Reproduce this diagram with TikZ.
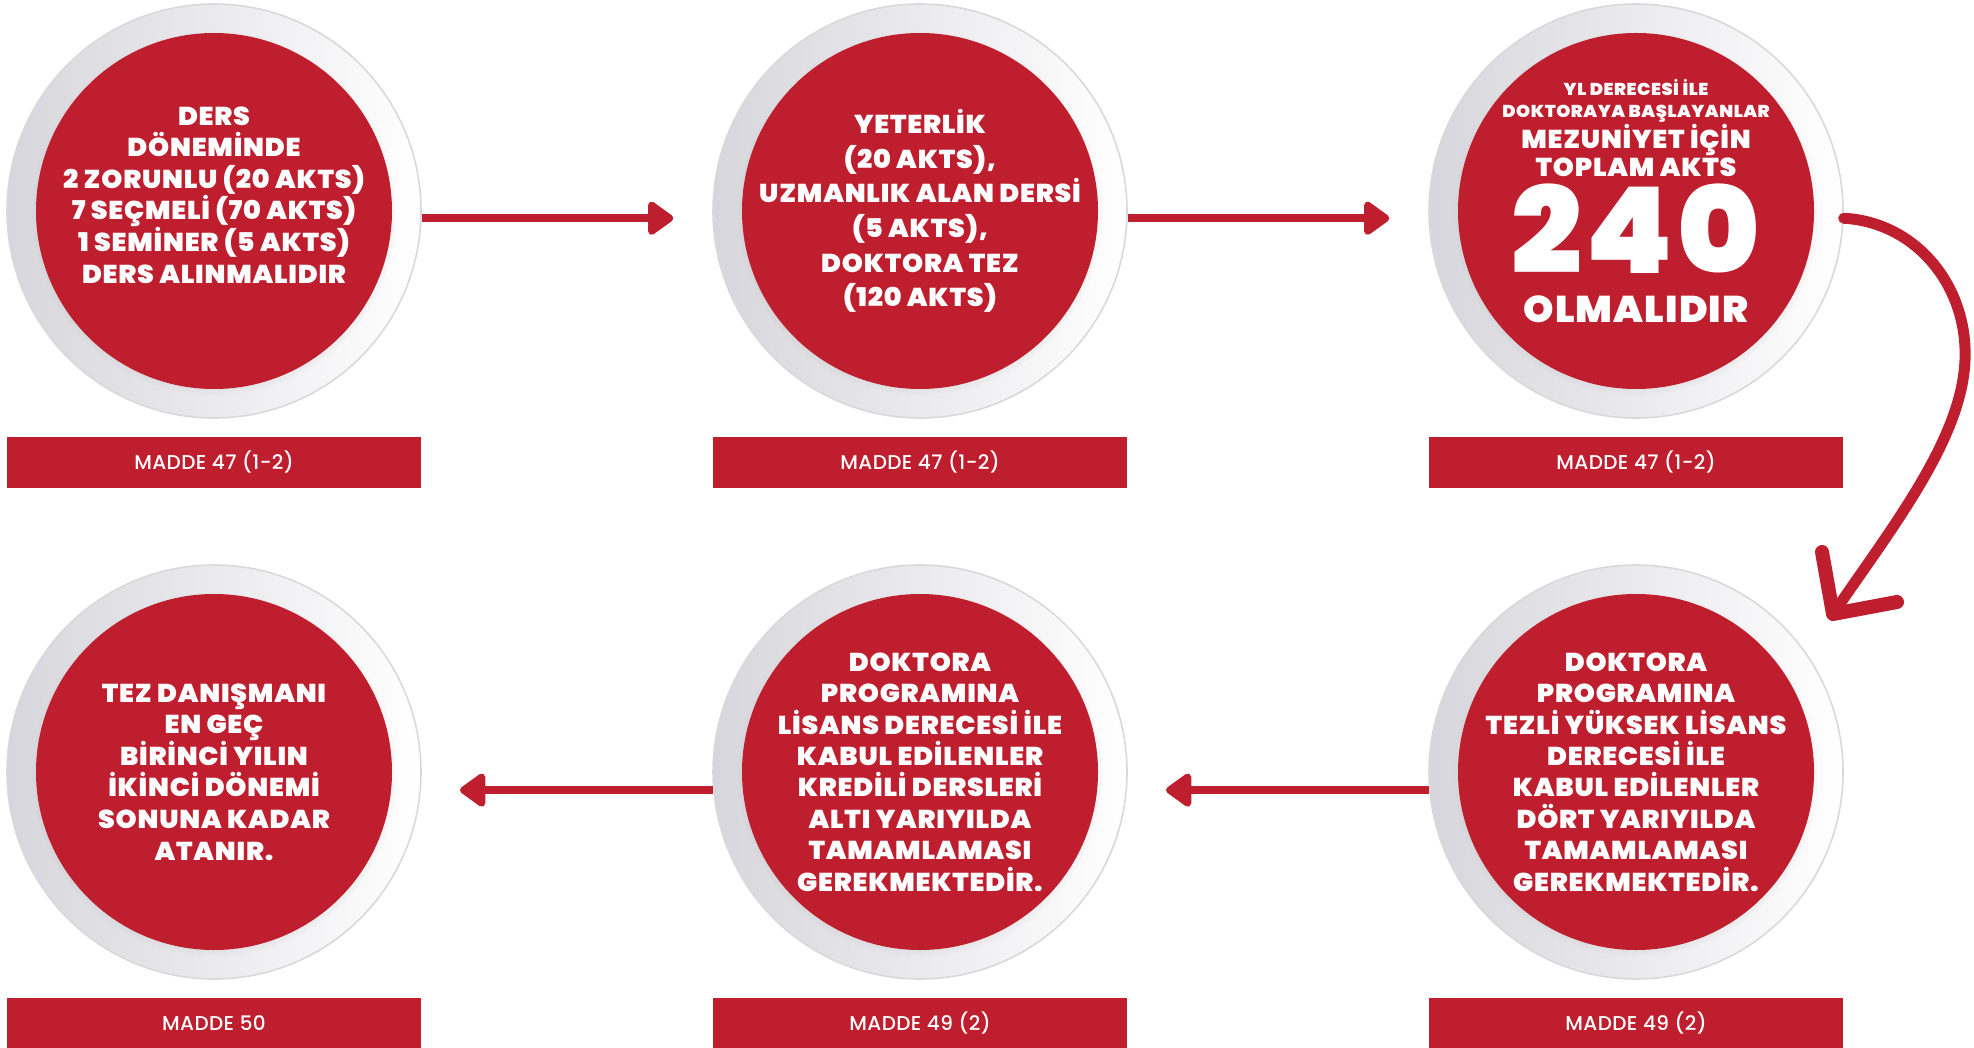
\documentclass[tikz,border=0pt]{standalone}
\usepackage{fontspec}
\setmainfont{Poppins}[BoldFont={Poppins Black},BoldFeatures={FakeStretch=1.04,LetterSpace=3}]
\newfontfamily\labelfont{Poppins Medium}[LetterSpace=2]
\usepackage{tikz}
\usetikzlibrary{positioning,arrows.meta,shadows}
\definecolor{myRed}{RGB}{190,30,45}
\definecolor{rimGray}{RGB}{214,214,220}

\begin{document}
\begin{tikzpicture}[x=0.5pt,y=-0.5pt,>=latex,text centered,line width=.8pt]
\tikzstyle{rim}=[circle,minimum size=207pt,left color=rimGray,right color=white,draw=black!15]
\tikzstyle{disc}=[circle,minimum size=178pt,fill=myRed,circular drop shadow={shadow xshift=0pt,shadow yshift=-1pt,shadow scale=1.025,opacity=.3}]
\tikzstyle{body}=[text=white,align=center,font=\bfseries\fontsize{12.9}{15.8}\selectfont]
\tikzstyle{madde}=[fill=myRed,text=white,minimum width=207pt,minimum height=25.5pt,font=\labelfont\fontsize{10}{12}\selectfont]
\tikzstyle{flow}=[draw=myRed,line width=4pt,-{Triangle[length=14pt,width=19pt,round]},shorten >=19.5pt]
\tikzstyle{hand}=[draw=myRed,line cap=round,line join=round]

\useasboundingbox[fill=white] (0,0) rectangle (1974,1048);

% top row
\draw (214,211) node[rim] (one) {};
\draw (one) node[disc] (oned) {};
\draw ([yshift=8pt]one.center) node[body,font=\bfseries\fontsize{12.9}{15.8}\selectfont\addfontfeature{LetterSpace=0}] (onet) {DERS\\DÖNEMİNDE\\2 ZORUNLU (20 AKTS)\\7 SEÇMELİ (70 AKTS)\\1 SEMİNER (5 AKTS)\\DERS ALINMALIDIR};

\draw (920,211) node[rim] (two) {};
\draw (two) node[disc] (twod) {};
\draw (two) node[body,font=\bfseries\fontsize{12.9}{17.3}\selectfont\addfontfeature{LetterSpace=1.5}] (twot) {YETERLİK\\(20 AKTS),\\UZMANLIK ALAN DERSİ\\(5 AKTS),\\DOKTORA TEZ\\(120 AKTS)};

\draw (1636,211) node[rim] (three) {};
\draw (three) node[disc] (threed) {};
\draw ([yshift=55pt]three.center) node[body,inner sep=0pt,font=\bfseries\fontsize{8.6}{10.7}\selectfont] (threea) {YL DERECESİ İLE\\DOKTORAYA BAŞLAYANLAR};
\draw ([yshift=30.5pt]three.center) node[body,inner sep=0pt,font=\bfseries\fontsize{12.9}{14}\selectfont] (threeb) {MEZUNİYET İÇİN\\TOPLAM AKTS};
\draw ([yshift=-8.75pt]three.center) node[body,inner sep=0pt,font=\bfseries\fontsize{60}{60}\selectfont] (threec) {240};
\draw ([yshift=-49pt]three.center) node[body,inner sep=0pt,font=\bfseries\fontsize{18.6}{20}\selectfont\addfontfeature{LetterSpace=6}] (threed) {OLMALIDIR};

% bottom row
\draw (1636,772) node[rim] (four) {};
\draw (four) node[disc] (fourd) {};
\draw (four) node[body,font=\bfseries\fontsize{12.9}{15.7}\selectfont] (fourt) {DOKTORA\\PROGRAMINA\\TEZLİ YÜKSEK LİSANS\\DERECESİ İLE\\KABUL EDİLENLER\\DÖRT YARIYILDA\\TAMAMLAMASI\\GEREKMEKTEDİR.};

\draw (920,772) node[rim] (five) {};
\draw (five) node[disc] (fived) {};
\draw (five) node[body,font=\bfseries\fontsize{12.9}{15.7}\selectfont] (fivet) {DOKTORA\\PROGRAMINA\\LİSANS DERECESİ İLE\\KABUL EDİLENLER\\KREDİLİ DERSLERİ\\ALTI YARIYILDA\\TAMAMLAMASI\\GEREKMEKTEDİR.};

\draw (214,772) node[rim] (six) {};
\draw (six) node[disc] (sixd) {};
\draw (six) node[body] (sixt) {TEZ DANIŞMANI\\EN GEÇ\\BİRİNCİ YILIN\\İKİNCİ DÖNEMİ\\SONUNA KADAR\\ATANIR.};

% article labels
\node[madde,below=8.5pt of one] (onem) {MADDE 47 (1-2)};
\node[madde,below=8.5pt of two] (twom) {MADDE 47 (1-2)};
\node[madde,below=8.5pt of three] (threem) {MADDE 47 (1-2)};
\node[madde,below=8.5pt of four] (fourm) {MADDE 49 (2)};
\node[madde,below=8.5pt of five] (fivem) {MADDE 49 (2)};
\node[madde,below=8.5pt of six] (sixm) {MADDE 50};

% connectors
\draw[flow] (one.-2) -- (two.182);
\draw[flow] (two.-2) -- (three.182);
\draw[flow] (four.185) -- (five.-5);
\draw[flow] (five.185) -- (six.-5);

\coordinate (hook) at (1833,614);
\draw[hand,line width=5.5pt] (three.-2) .. controls (1915,222) and (1968,285) .. (1965,360) .. controls (1962,440) and (1890,530) .. (hook);
\draw[hand,line width=7pt] ([shift={(-11,-62)}]hook) -- (hook) -- ([shift={(64,-12)}]hook);

\end{tikzpicture}
\end{document}
